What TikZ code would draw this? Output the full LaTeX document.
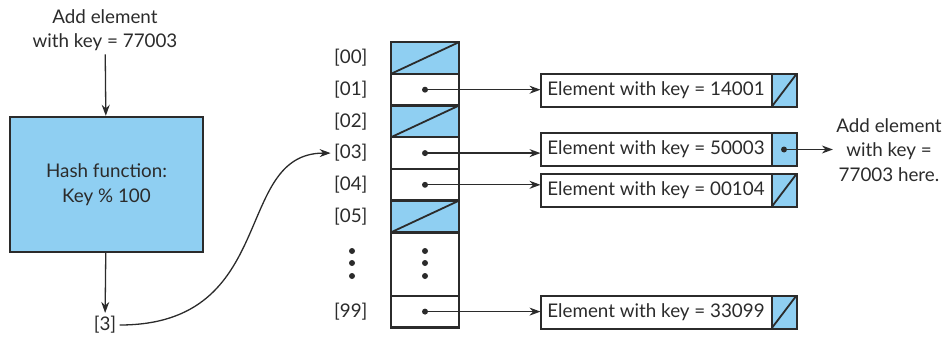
\documentclass[tikz,border=0pt]{standalone}
\usepackage{fontspec}
\setmainfont{Lato}
\usepackage{xcolor}
\usetikzlibrary{arrows.meta,positioning}
\definecolor{slotblue}{HTML}{8FCFF2}
\definecolor{ink}{HTML}{2B2B2B}

\begin{document}
\begin{tikzpicture}[
  x=1pt,y=-1pt,
  every node/.style={font=\fontsize{18.8}{24.5}\selectfont,text=ink},
  hashbox/.style={draw=ink,line width=2.4pt,fill=slotblue,minimum width=193pt,minimum height=135pt,align=center},
  slot/.style={draw=ink,line width=2.4pt,minimum width=68pt,minimum height=31.7pt,outer sep=0pt,inner sep=0pt},
  diag/.style={path picture={\draw[ink,line width=1.8pt] (path picture bounding box.south west) -- (path picture bounding box.north east);}},
  nullslot/.style={slot,fill=slotblue,diag},
  elem/.style={draw=ink,line width=2pt,minimum width=231pt,minimum height=33pt,outer sep=0pt,inner sep=0pt},
  nextcell/.style={draw=ink,line width=2pt,fill=slotblue,minimum width=25pt,minimum height=33pt,outer sep=0pt,inner sep=0pt},
  dot/.style={circle,fill=ink,inner sep=0pt,minimum size=6pt},
  arr/.style={-{Stealth[length=11pt,width=8pt]},line width=1.3pt,draw=ink}
]
\useasboundingbox (0,0) rectangle (944,337);

% hashing the key
\node[align=center] (add) at (105,30) {Add element\\with key = 77003};
\node[hashbox] (hash) at (106.5,184.5) {Hash function:\\Key \% 100};
\node (idx) at (105,325) {[3]};

% the table
\node[nullslot] (t00) at (425,58) {};
\node[slot,below=0pt of t00] (t01) {};
\node[nullslot,below=0pt of t01] (t02) {};
\node[slot,below=0pt of t02] (t03) {};
\node[slot,below=0pt of t03] (t04) {};
\node[nullslot,below=0pt of t04] (t05) {};
\node[slot,minimum height=63.4pt,below=0pt of t05] (tdots) {};
\node[slot,below=0pt of tdots] (t99) {};

\node[left=20pt of t00] (l00) {[00]};
\node[left=20pt of t01] (l01) {[01]};
\node[left=20pt of t02] (l02) {[02]};
\node[left=20pt of t03] (l03) {[03]};
\node[left=20pt of t04] (l04) {[04]};
\node[left=20pt of t05] (l05) {[05]};
\node[left=20pt of t99] (l99) {[99]};
\foreach \y in {251,263,276} {
  \fill[ink] (352,\y) circle (3pt);
  \fill[ink] (425,\y) circle (3pt);
}

\node[dot] (d01) at (t01) {};
\node[dot] (d03) at (t03) {};
\node[dot] (d04) at (t04) {};
\node[dot] (d99) at (t99) {};

% chained elements
\node[elem] (e01) at (656,90.5) {Element with key = 14001};
\node[nextcell,diag,right=0pt of e01] (n01) {};
\node[elem] (e03) at (656,149.5) {Element with key = 50003};
\node[nextcell,right=0pt of e03] (n03) {};
\node[dot] (dn03) at (n03) {};
\node[elem] (e04) at (656,190.5) {Element with key = 00104};
\node[nextcell,diag,right=0pt of e04] (n04) {};
\node[elem] (e99) at (656,312) {Element with key = 33099};
\node[nextcell,diag,right=0pt of e99] (n99) {};

\node[align=center] (note) at (889,150) {Add element\\with key =\\77003 here.};

\draw[arr] (add) -- (hash);
\draw[arr] (hash) -- (idx);
\draw[arr] (idx.east) .. controls (280,325) and (232,153) .. (l03.west);
\draw[arr] (d01.center) -- (d01 -| e01.west);
\draw[arr] (d03.center) -- (d03 -| e03.west);
\draw[arr] (d04.center) -- (d04 -| e04.west);
\draw[arr] (d99.center) -- (d99 -| e99.west);
\draw[arr] (dn03.center) -- (dn03 -| note.west);
\end{tikzpicture}
\end{document}
